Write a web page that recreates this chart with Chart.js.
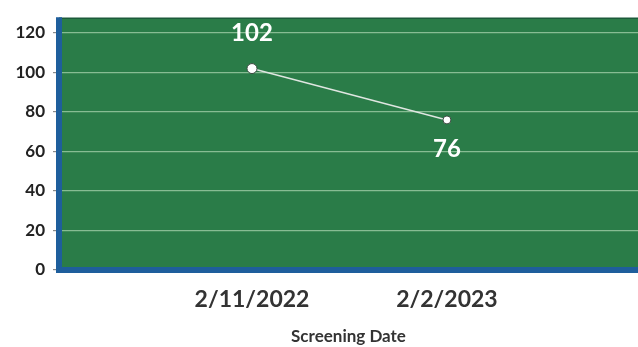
<!DOCTYPE html>
<html>
<head>
<meta charset="utf-8">
<script src="https://cdn.jsdelivr.net/npm/chart.js@4/dist/chart.umd.min.js"></script>
<style>
  html, body { margin: 0; padding: 0; background: #ffffff; overflow: hidden; }
  canvas { display: block; }
</style>
</head>
<body>
<canvas id="c" width="638" height="347"></canvas>
<script>
// Screening dates, placed at positions 1 and 2 along the axis
const categories = ['2/11/2022', '2/2/2023'];
// Screening scores per date
const scores = [102, 76];
// Vertical axis ticks
const yTicks = [0, 20, 40, 60, 80, 100, 120];
const axisTitle = 'Screening Date';

const GREEN = '#2a7c48';
const BLUE = '#1e5e9c';

// Green plot panel with heavy blue left/bottom frame
const panelPlugin = {
  id: 'panel',
  beforeDraw(chart) {
    const { ctx, chartArea: a } = chart;
    ctx.save();
    ctx.fillStyle = GREEN;
    ctx.fillRect(a.left, a.top, a.right - a.left, a.bottom - a.top);
    ctx.restore();
  },
  afterDatasetsDraw(chart) {
    const { ctx, chartArea: a } = chart;
    ctx.save();
    ctx.strokeStyle = '#1c5a3a';
    ctx.lineWidth = 1.5;
    ctx.beginPath();
    ctx.moveTo(a.left, a.top);
    ctx.lineTo(a.right, a.top);
    ctx.stroke();
    ctx.strokeStyle = BLUE;
    ctx.lineWidth = 6;
    ctx.beginPath();
    ctx.moveTo(a.left, a.top - 1);
    ctx.lineTo(a.left, a.bottom);
    ctx.lineTo(a.right, a.bottom);
    ctx.stroke();
    ctx.restore();
  }
};

// Value labels: above the first point, below the second
const valueLabelPlugin = {
  id: 'valueLabels',
  afterDatasetsDraw(chart) {
    const { ctx } = chart;
    const meta = chart.getDatasetMeta(0);
    ctx.save();
    ctx.fillStyle = '#ffffff';
    ctx.font = 'bold 24px Lato, "Open Sans", sans-serif';
    ctx.textAlign = 'center';
    ctx.textBaseline = 'middle';
    meta.data.forEach((pt, i) => {
      const dy = i === 0 ? -35 : 29;
      ctx.fillText(String(scores[i]), pt.x, pt.y + dy);
    });
    ctx.restore();
  }
};

new Chart(document.getElementById('c'), {
  type: 'line',
  data: {
    datasets: [{
      data: scores.map((v, i) => ({ x: i + 1, y: v })),
      borderColor: '#dfe6e1',
      borderWidth: 1.5,
      pointRadius: [5, 4],
      pointBackgroundColor: '#ffffff',
      pointBorderColor: '#3a4a40',
      pointBorderWidth: 1,
      tension: 0
    }]
  },
  options: {
    responsive: false,
    animation: false,
    layout: { autoPadding: false, padding: { top: 15, right: 0, left: 0, bottom: 0 } },
    plugins: {
      legend: { display: false },
      tooltip: { enabled: false }
    },
    scales: {
      x: {
        type: 'linear',
        min: 0.01,
        max: 2.98,
        afterBuildTicks(scale) { scale.ticks = categories.map((_, i) => ({ value: i + 1 })); },
        grid: { display: false, drawTicks: false },
        border: { display: false },
        ticks: {
          padding: 16,
          color: '#333333',
          font: { family: 'Lato, "Open Sans", sans-serif', size: 23, weight: 'bold' },
          maxRotation: 0,
          autoSkip: false,
          callback: (v) => categories[Math.round(v) - 1] || ''
        },
        title: {
          display: true,
          text: axisTitle,
          color: '#333333',
          font: { family: 'Lato, "Open Sans", sans-serif', size: 17, weight: 'bold' },
          padding: { top: 10, bottom: 0 }
        },
        afterFit(scale) { scale.height = 77; }
      },
      y: {
        min: 0,
        max: 127.5,
        afterBuildTicks(scale) { scale.ticks = yTicks.map(v => ({ value: v })); },
        grid: {
          color: 'rgba(175, 215, 180, 0.7)',
          lineWidth: 1.2,
          tickLength: 6,
          tickColor: '#8a8a8a'
        },
        border: { display: false },
        ticks: {
          padding: 8,
          color: '#222222',
          font: { family: 'Lato, "Open Sans", sans-serif', size: 17, weight: 'bold' }
        },
        afterFit(scale) { scale.width = 59; }
      }
    }
  },
  plugins: [panelPlugin, valueLabelPlugin]
});
</script>
</body>
</html>
